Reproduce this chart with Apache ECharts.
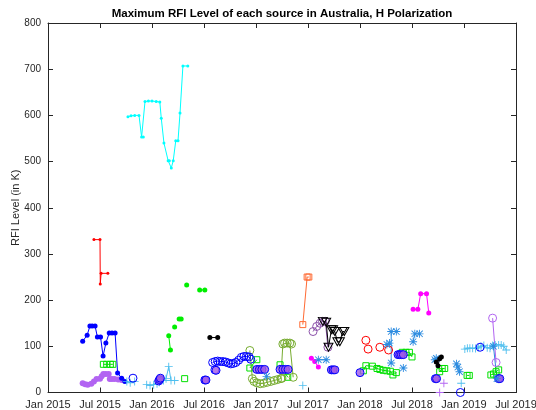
<!DOCTYPE html>
<html>
<head>
<meta charset="utf-8">
<script src="https://cdn.jsdelivr.net/npm/echarts@6/dist/echarts.min.js"></script>
<style>
  html, body { margin: 0; padding: 0; background: #fff; }
  #chart { width: 536px; height: 410px; }
</style>
</head>
<body>
<div id="chart"></div>
<script>
// Axis ticks (months since Jan 2015) and their labels
const xTickMonths = [0, 6, 12, 18, 24, 30, 36, 42, 48, 54];
const xTickLabels = ['Jan 2015', 'Jul 2015', 'Jan 2016', 'Jul 2016', 'Jan 2017',
                     'Jul 2017', 'Jan 2018', 'Jul 2018', 'Jan 2019', 'Jul 2019'];
const yTicks = [0, 100, 200, 300, 400, 500, 600, 700, 800];

// Each source: list of segments, each segment a list of [date, max RFI level (K)]
const blueDots = [[
  ['2015-05-01', 111], ['2015-05-17', 124], ['2015-05-27', 144], ['2015-06-04', 144],
  ['2015-06-14', 144], ['2015-06-22', 120], ['2015-07-03', 120], ['2015-07-12', 79],
  ['2015-07-22', 107], ['2015-08-03', 129], ['2015-08-13', 129], ['2015-08-24', 129],
  ['2015-09-02', 42], ['2015-09-16', 31], ['2015-09-27', 24]
]];
const lavenderDots = [[
  ['2015-05-01', 20], ['2015-05-10', 18], ['2015-05-19', 17], ['2015-06-01', 19],
  ['2015-06-10', 24], ['2015-06-19', 29], ['2015-07-01', 30], ['2015-07-07', 35],
  ['2015-07-13', 40], ['2015-07-22', 40], ['2015-08-01', 40], ['2015-08-05', 29],
  ['2015-08-13', 29], ['2015-08-22', 29], ['2015-09-04', 28], ['2015-09-16', 27]
]];
const redLine = [[
  ['2015-06-10', 331], ['2015-07-01', 331], ['2015-07-02', 235], ['2015-07-05', 258], ['2015-07-29', 258]
]];
const cyanLine = [[
  ['2015-10-08', 597], ['2015-10-19', 599], ['2015-11-01', 600], ['2015-11-16', 600],
  ['2015-11-25', 553], ['2015-12-01', 553], ['2015-12-07', 630], ['2015-12-19', 631],
  ['2016-01-01', 631], ['2016-01-16', 630], ['2016-01-29', 629], ['2016-02-03', 594],
  ['2016-02-12', 540], ['2016-02-26', 502], ['2016-03-01', 502], ['2016-03-08', 486],
  ['2016-03-15', 502], ['2016-03-24', 545], ['2016-04-01', 545], ['2016-04-08', 605],
  ['2016-04-18', 707], ['2016-05-05', 707]
]];
const greenDots = [
  [['2016-02-28', 123], ['2016-03-05', 92]],
  [['2016-03-20', 142]],
  [['2016-04-05', 159], ['2016-04-12', 159]],
  [['2016-05-01', 233]],
  [['2016-06-16', 222], ['2016-07-04', 222]]
];
const greenSquares = [
  [['2015-07-13', 61], ['2015-07-25', 61], ['2015-08-07', 61], ['2015-08-16', 61]],
  [['2016-04-24', 30]],
  [['2016-12-10', 53], ['2017-01-04', 71]],
  [['2017-03-25', 60], ['2017-04-21', 33]],
  [['2018-01-13', 47], ['2018-01-22', 58], ['2018-02-13', 57], ['2018-02-28', 52],
   ['2018-03-10', 50], ['2018-03-22', 48], ['2018-04-04', 47], ['2018-04-16', 46],
   ['2018-04-25', 38], ['2018-05-07', 43]],
  [['2018-05-28', 87], ['2018-06-10', 87], ['2018-06-22', 87], ['2018-07-01', 77]],
  [['2018-10-07', 45], ['2018-10-16', 52], ['2018-10-25', 52]],
  [['2019-01-12', 37], ['2019-01-20', 37]],
  [['2019-04-04', 38], ['2019-04-13', 40], ['2019-04-22', 45], ['2019-05-01', 49]]
];
const lightBluePlus = [
  [['2015-10-04', 24], ['2015-10-16', 21], ['2015-11-01', 24]],
  [['2015-12-13', 17], ['2015-12-25', 15], ['2016-01-07', 17], ['2016-01-19', 19],
   ['2016-01-28', 22], ['2016-02-10', 26], ['2016-02-19', 30], ['2016-02-28', 56],
   ['2016-03-07', 26]],
  [['2016-03-20', 26]],
  [['2017-06-13', 15]],
  [['2018-12-22', 20]],
  [['2019-01-04', 94], ['2019-01-13', 96], ['2019-01-22', 96], ['2019-02-01', 96],
   ['2019-02-10', 95], ['2019-02-19', 97], ['2019-02-28', 100], ['2019-03-10', 102],
   ['2019-03-22', 97], ['2019-04-01', 96], ['2019-04-10', 102], ['2019-04-19', 103],
   ['2019-05-01', 103], ['2019-05-10', 103], ['2019-05-19', 100], ['2019-05-28', 92]]
];
const blueStars = [
  [['2017-02-07', 35]],
  [['2017-08-07', 71], ['2017-09-04', 71]],
  [['2018-04-04', 104], ['2018-04-13', 107]],
  [['2018-04-19', 64], ['2018-04-19', 132], ['2018-05-07', 132]],
  [['2018-06-01', 53]],
  [['2018-07-05', 110], ['2018-07-11', 127], ['2018-07-28', 127]],
  [['2018-09-20', 71], ['2018-09-25', 74]],
  [['2018-12-05', 62], ['2018-12-10', 55], ['2018-12-16', 45]],
  [['2019-04-13', 100], ['2019-04-25', 30]]
];
const blueRings = [
  [['2015-10-26', 31]],
  [['2016-08-09', 49]],
  [['2016-08-01', 65], ['2016-08-10', 67], ['2016-08-19', 68], ['2016-08-28', 67],
   ['2016-09-07', 67], ['2016-09-16', 66], ['2016-09-25', 64], ['2016-10-04', 62],
   ['2016-10-13', 63], ['2016-10-22', 65], ['2016-11-01', 70], ['2016-11-10', 76],
   ['2016-11-19', 78], ['2016-11-28', 78], ['2016-12-07', 77], ['2016-12-13', 72]],
  [['2018-12-19', 0]],
  [['2019-02-25', 98]]
];
const blueRingsFilled = [
  [['2016-01-25', 25], ['2016-01-28', 28], ['2016-01-31', 31]],
  [['2016-07-04', 27], ['2016-07-08', 27]],
  [['2016-08-13', 48]],
  [['2017-01-04', 50], ['2017-01-13', 50], ['2017-01-22', 50], ['2017-02-01', 50]],
  [['2017-03-25', 50], ['2017-04-04', 50], ['2017-04-13', 50], ['2017-04-22', 50]],
  [['2017-09-22', 49], ['2017-09-28', 49], ['2017-10-04', 49]],
  [['2018-01-01', 43]],
  [['2018-05-13', 82], ['2018-05-19', 82], ['2018-05-25', 82], ['2018-06-01', 82]],
  [['2018-09-22', 30], ['2018-09-26', 30]],
  [['2019-05-01', 30], ['2019-05-05', 30]]
];
const oliveRings = [[
  ['2016-12-10', 91], ['2016-12-19', 30], ['2016-12-25', 24], ['2017-01-04', 21],
  ['2017-01-16', 19], ['2017-01-28', 20], ['2017-02-09', 22], ['2017-02-21', 24],
  ['2017-03-04', 26], ['2017-03-16', 28], ['2017-03-28', 30], ['2017-04-01', 31],
  ['2017-04-04', 105], ['2017-04-10', 107], ['2017-04-19', 107], ['2017-04-28', 107],
  ['2017-05-04', 105], ['2017-05-10', 33]
]];
const orangeSquares = [[['2017-06-13', 147], ['2017-06-28', 250], ['2017-07-04', 250]]];
const magentaDots = [
  [['2017-07-13', 74], ['2017-07-25', 67], ['2017-08-07', 55]],
  [['2018-07-05', 180], ['2018-07-22', 180], ['2018-08-01', 214], ['2018-08-22', 214], ['2018-08-30', 172]]
];
const purpleRings = [[
  ['2017-07-19', 132], ['2017-08-01', 143], ['2017-08-13', 150], ['2017-08-22', 154],
  ['2017-09-01', 154], ['2017-09-10', 98]
]];
const blackTriangles = [[
  ['2017-08-23', 154], ['2017-09-04', 152], ['2017-09-12', 98], ['2017-09-22', 136],
  ['2017-09-28', 136], ['2017-10-04', 132], ['2017-10-13', 110], ['2017-10-22', 110],
  ['2017-11-01', 132], ['2017-11-07', 132]
]];
const redRings = [[['2018-01-22', 113]], [['2018-01-30', 94]], [['2018-03-10', 98]], [['2018-04-10', 92]]];
const blackDots = [
  [['2016-07-22', 119], ['2016-08-19', 119]],
  [['2018-09-25', 66], ['2018-10-01', 58], ['2018-10-07', 73], ['2018-10-13', 77]]
];
const lavenderPlus = [[['2018-10-07', 0]], [['2018-10-22', 20]]];
const lavenderRings = [[['2019-04-10', 161], ['2019-04-22', 65]]];

// Date string -> fractional months since Jan 2015
function toMonths(s) {
  const [y, m, d] = s.split('-').map(Number);
  const dim = new Date(y, m, 0).getDate();
  return (y - 2015) * 12 + (m - 1) + (d - 1) / dim;
}

const PLUS = 'path://M4.45,0H5.55V10H4.45Z M0,4.45H10V5.55H0Z';
const STAR = 'path://M4.45,0H5.55V10H4.45Z M0,4.45H10V5.55H0Z M1.4,0.6L9.4,8.6L8.6,9.4L0.6,1.4Z M8.6,0.6L9.4,1.4L1.4,9.4L0.6,8.6Z';

// Marker styles
const styles = {
  dot:    (c) => ({ symbol: 'circle', symbolSize: 5, itemStyle: { color: c } }),
  bigDot: (c) => ({ symbol: 'circle', symbolSize: 6, itemStyle: { color: c } }),
  smallDot: (c) => ({ symbol: 'circle', symbolSize: 3, itemStyle: { color: c } }),
  ring:   (c, fill) => ({ symbol: 'circle', symbolSize: 8, itemStyle: { color: fill || 'rgba(0,0,0,0)', borderColor: c, borderWidth: 1 } }),
  square: (c) => ({ symbol: 'rect', symbolSize: 6, itemStyle: { color: 'rgba(0,0,0,0)', borderColor: c, borderWidth: 1 } }),
  plus:   (c) => ({ symbol: PLUS, symbolSize: 8, itemStyle: { color: c } }),
  star:   (c) => ({ symbol: STAR, symbolSize: 8, itemStyle: { color: c } }),
  triV:   (c) => ({ symbol: 'triangle', symbolSize: [9, 8], symbolRotate: 180, itemStyle: { color: 'rgba(0,0,0,0)', borderColor: c, borderWidth: 1 } })
};

const layers = [
  { segs: cyanLine, color: '#00ffff', marker: 'smallDot', line: true },
  { segs: lavenderDots, color: '#b264f2', marker: 'bigDot', line: true },
  { segs: blueDots, color: '#0000ff', marker: 'dot', line: true },
  { segs: redLine, color: '#ff0000', marker: 'smallDot', line: true },
  { segs: greenDots, color: '#00ee00', marker: 'dot', line: true },
  { segs: greenSquares, color: '#00e000', marker: 'square', line: true },
  { segs: oliveRings, color: '#77ac30', marker: 'ring', line: true },
  { segs: lightBluePlus, color: '#4dbeee', marker: 'plus', line: true },
  { segs: blueRings, color: '#0000ff', marker: 'ring', line: true },
  { segs: blueRingsFilled, color: '#0000ff', marker: 'ring', fill: 'rgba(160,90,230,0.8)', line: false },
  { segs: orangeSquares, color: '#ff6a33', marker: 'square', line: true },
  { segs: purpleRings, color: '#8c52aa', marker: 'ring', line: true },
  { segs: blackTriangles, color: '#000000', marker: 'triV', line: true },
  { segs: magentaDots, color: '#ff00ff', marker: 'dot', line: true },
  { segs: redRings, color: '#ff0000', marker: 'ring', line: false },
  { segs: blueStars, color: '#2b8be0', marker: 'star', line: true },
  { segs: blackDots, color: '#000000', marker: 'dot', line: true },
  { segs: lavenderPlus, color: '#b264f2', marker: 'plus', line: false },
  { segs: lavenderRings, color: '#b264f2', marker: 'ring', line: true }
];

const series = [];
layers.forEach(layer => {
  layer.segs.forEach(seg => {
    series.push(Object.assign({
      type: 'line',
      data: seg.map(p => [toMonths(p[0]), p[1]]),
      showSymbol: true,
      showAllSymbol: true,
      animation: false,
      silent: true,
      clip: false,
      lineStyle: { color: layer.color, width: layer.line ? 1 : 0 },
      emphasis: { disabled: true }
    }, styles[layer.marker](layer.color, layer.fill)));
  });
});

const axisColor = '#262626';
const tickLabel = (m) => xTickLabels[xTickMonths.indexOf(Math.round(m))] || '';
const font = '"Liberation Sans", Arial, Helvetica, sans-serif';

const axisLine = { show: true, onZero: false, lineStyle: { color: axisColor, width: 1 } };
const axisTick = { show: true, inside: true, length: 5, lineStyle: { color: axisColor } };

const option = {
  backgroundColor: '#ffffff',
  animation: false,
  title: {
    text: 'Maximum RFI Level of each source in Australia, H Polarization',
    left: 282, top: 8, textAlign: 'center', padding: 0,
    textStyle: { fontFamily: font, fontSize: 11.5, fontWeight: 'bold', color: '#000' }
  },
  grid: { left: 48, right: 20, top: 23, bottom: 17.5, outerBoundsMode: 'none', containLabel: false },
  xAxis: [{
    type: 'value', min: 0, max: 54, interval: 6,
    axisLine: axisLine, axisTick: axisTick,
    axisLabel: { formatter: tickLabel, color: axisColor, fontFamily: font, fontSize: 11, margin: 7 },
    splitLine: { show: false }
  }, {
    type: 'value', min: 0, max: 54, interval: 6, position: 'top',
    axisLine: axisLine, axisTick: axisTick,
    axisLabel: { show: false }, splitLine: { show: false }
  }],
  yAxis: [{
    type: 'value', min: yTicks[0], max: yTicks[yTicks.length - 1], interval: 100,
    name: 'RFI Level (in K)', nameLocation: 'middle', nameGap: 27, nameMoveOverlap: false,
    nameTextStyle: { fontFamily: font, fontSize: 11, color: axisColor },
    axisLine: axisLine, axisTick: axisTick,
    axisLabel: { color: axisColor, fontFamily: font, fontSize: 10, margin: 7 },
    splitLine: { show: false }
  }, {
    type: 'value', min: 0, max: 800, interval: 100, position: 'right',
    axisLine: axisLine, axisTick: axisTick,
    axisLabel: { show: false }, splitLine: { show: false }
  }],
  series: series
};

const chart = echarts.init(document.getElementById('chart'), null, { renderer: 'canvas' });
chart.setOption(option);
</script>
</body>
</html>
